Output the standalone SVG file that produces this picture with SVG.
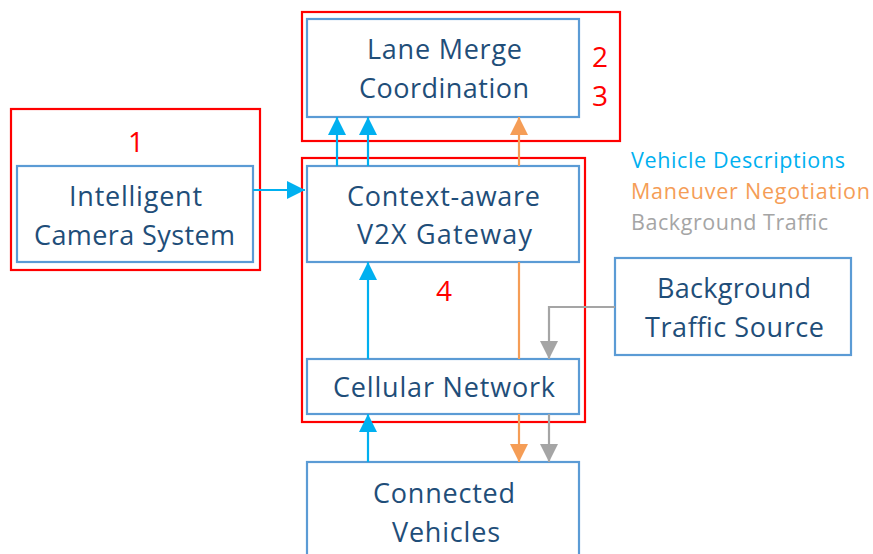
<svg xmlns="http://www.w3.org/2000/svg" width="873" height="554" viewBox="0 0 873 554">
<defs>
<style>
.node{fill:#fff;stroke:#5B9BD5;stroke-width:2.2}
.grp{fill:none;stroke:#FF0000;stroke-width:2.2}
.t{font-family:"Open Sans","Liberation Sans",sans-serif;font-size:27px;fill:#1F4E79}
.num{font-family:"Open Sans","Liberation Sans",sans-serif;font-size:28px;fill:#FF0000}
.leg{font-family:"Open Sans","Liberation Sans",sans-serif;font-size:21.5px}
.b{stroke:#00B0F0;stroke-width:2.2;fill:none}
.o{stroke:#F59D56;stroke-width:2.2;fill:none}
.g{stroke:#A5A5A5;stroke-width:2.2;fill:none}
</style>
<marker id="ab" markerWidth="18" markerHeight="18" refX="18" refY="9" orient="auto" markerUnits="userSpaceOnUse"><path d="M0,0 L18,9 L0,18 Z" fill="#00B0F0"/></marker>
<marker id="ao" markerWidth="18" markerHeight="18" refX="18" refY="9" orient="auto" markerUnits="userSpaceOnUse"><path d="M0,0 L18,9 L0,18 Z" fill="#F59D56"/></marker>
<marker id="ag" markerWidth="18" markerHeight="18" refX="18" refY="9" orient="auto" markerUnits="userSpaceOnUse"><path d="M0,0 L18,9 L0,18 Z" fill="#A5A5A5"/></marker>
</defs>
<rect width="873" height="554" fill="#fff"/>

<g id="groups">
<rect class="grp" x="302" y="12" width="318" height="129"/>
<rect class="grp" x="11" y="109" width="249" height="161"/>
<rect class="grp" x="302" y="158" width="283" height="264"/>
<text class="num" x="600" y="67" text-anchor="middle">2</text>
<text class="num" x="600" y="106" text-anchor="middle">3</text>
<text class="num" x="136" y="152" text-anchor="middle">1</text>
<text class="num" x="444" y="301" text-anchor="middle">4</text>
</g>

<g id="lane-merge">
<rect class="node" x="307" y="19" width="272" height="98"/>
<text class="t" x="367" y="59" textLength="155" lengthAdjust="spacing">Lane Merge</text>
<text class="t" x="359" y="98" textLength="170" lengthAdjust="spacing">Coordination</text>
</g>

<g id="camera">
<rect class="node" x="17" y="166" width="236" height="96"/>
<text class="t" x="69" y="206" textLength="133" lengthAdjust="spacing">Intelligent</text>
<text class="t" x="34" y="245" textLength="201" lengthAdjust="spacing">Camera System</text>
</g>

<g id="gateway">
<rect class="node" x="307" y="166" width="272" height="96"/>
<text class="t" x="347" y="206" textLength="193" lengthAdjust="spacing">Context-aware</text>
<text class="t" x="357" y="244" textLength="175" lengthAdjust="spacing">V2X Gateway</text>
</g>

<g id="cellular">
<rect class="node" x="307" y="359" width="272" height="55"/>
<text class="t" x="333" y="397" textLength="222" lengthAdjust="spacing">Cellular Network</text>
</g>

<g id="background-source">
<rect class="node" x="615" y="258" width="236" height="97"/>
<text class="t" x="657" y="298" textLength="154" lengthAdjust="spacing">Background</text>
<text class="t" x="645" y="337" textLength="179" lengthAdjust="spacing">Traffic Source</text>
</g>

<g id="connected">
<rect class="node" x="307" y="462" width="272" height="110"/>
<text class="t" x="373" y="503" textLength="142" lengthAdjust="spacing">Connected</text>
<text class="t" x="392" y="542" textLength="108" lengthAdjust="spacing">Vehicles</text>
</g>

<g id="legend">
<text class="leg" x="631" y="168" fill="#00B0F0" textLength="214" lengthAdjust="spacing">Vehicle Descriptions</text>
<text class="leg" x="631" y="199" fill="#F59D56" textLength="239" lengthAdjust="spacing">Maneuver Negotiation</text>
<text class="leg" x="631" y="230" fill="#A5A5A5" textLength="197" lengthAdjust="spacing">Background Traffic</text>
</g>

<g id="connectors">
<line class="b" x1="253" y1="190" x2="305" y2="190" marker-end="url(#ab)"/>
<line class="b" x1="337" y1="166" x2="337" y2="117" marker-end="url(#ab)"/>
<line class="b" x1="368" y1="166" x2="368" y2="117" marker-end="url(#ab)"/>
<line class="o" x1="519" y1="166" x2="519" y2="117" marker-end="url(#ao)"/>
<line class="b" x1="368" y1="359" x2="368" y2="262" marker-end="url(#ab)"/>
<line class="b" x1="368" y1="462" x2="368" y2="414" marker-end="url(#ab)"/>
<line class="o" x1="519" y1="262" x2="519" y2="359"/>
<line class="o" x1="519" y1="414" x2="519" y2="462" marker-end="url(#ao)"/>
<polyline class="g" points="615,307 549,307 549,359" marker-end="url(#ag)"/>
<line class="g" x1="549" y1="414" x2="549" y2="462" marker-end="url(#ag)"/>
</g>
</svg>
